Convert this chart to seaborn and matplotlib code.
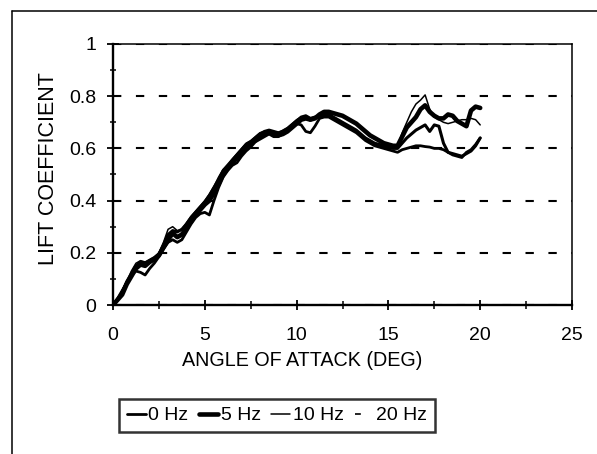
import numpy as np
import pandas as pd
import matplotlib
matplotlib.use("Agg")
import matplotlib.pyplot as plt
from matplotlib.lines import Line2D
from matplotlib.ticker import MultipleLocator
import seaborn as sns

# Angle of attack grid (deg)
angle_deg = np.arange(0, 20.25, 0.25)

# Lift coefficient for each forcing frequency
cl_0hz = [0.00, 0.02, 0.05, 0.09, 0.12, 0.15, 0.165, 0.16, 0.17, 0.18, 0.195, 0.23, 0.27,
          0.285, 0.28, 0.29, 0.31, 0.335, 0.355, 0.375, 0.395, 0.42, 0.45, 0.48, 0.515,
          0.53, 0.555, 0.575, 0.595, 0.615, 0.625, 0.64, 0.655, 0.665, 0.67, 0.665, 0.66,
          0.665, 0.675, 0.69, 0.705, 0.72, 0.725, 0.715, 0.72, 0.725, 0.73, 0.73, 0.72,
          0.71, 0.70, 0.69, 0.68, 0.67, 0.655, 0.64, 0.63, 0.62, 0.615, 0.61, 0.605, 0.60,
          0.60, 0.62, 0.64, 0.655, 0.67, 0.68, 0.69, 0.665, 0.69, 0.685, 0.62, 0.585, 0.58,
          0.575, 0.57, 0.58, 0.59, 0.61, 0.64]
cl_5hz = [0.00, 0.02, 0.04, 0.08, 0.11, 0.14, 0.155, 0.15, 0.165, 0.175, 0.19, 0.22, 0.25,
          0.275, 0.26, 0.27, 0.295, 0.32, 0.345, 0.365, 0.385, 0.40, 0.43, 0.465, 0.50,
          0.525, 0.545, 0.565, 0.585, 0.605, 0.62, 0.63, 0.645, 0.655, 0.66, 0.655, 0.65,
          0.655, 0.665, 0.68, 0.695, 0.71, 0.715, 0.71, 0.715, 0.73, 0.74, 0.74, 0.735,
          0.73, 0.725, 0.715, 0.705, 0.695, 0.68, 0.665, 0.65, 0.64, 0.63, 0.62, 0.615,
          0.61, 0.61, 0.645, 0.68, 0.70, 0.72, 0.75, 0.765, 0.74, 0.725, 0.715, 0.715,
          0.73, 0.725, 0.705, 0.695, 0.685, 0.745, 0.76, 0.755]
cl_10hz = [0.00, 0.03, 0.06, 0.09, 0.13, 0.16, 0.17, 0.165, 0.175, 0.185, 0.20, 0.24, 0.29,
           0.30, 0.285, 0.29, 0.315, 0.34, 0.36, 0.38, 0.40, 0.425, 0.455, 0.49, 0.52,
           0.54, 0.56, 0.58, 0.60, 0.62, 0.63, 0.645, 0.66, 0.665, 0.665, 0.66, 0.66,
           0.67, 0.68, 0.695, 0.71, 0.72, 0.715, 0.705, 0.715, 0.72, 0.725, 0.725, 0.715,
           0.705, 0.695, 0.685, 0.675, 0.665, 0.65, 0.635, 0.625, 0.615, 0.61, 0.605,
           0.60, 0.60, 0.61, 0.66, 0.70, 0.74, 0.77, 0.785, 0.805, 0.75, 0.72, 0.71,
           0.70, 0.695, 0.70, 0.705, 0.71, 0.71, 0.715, 0.71, 0.69]
cl_20hz = [0.00, 0.02, 0.05, 0.085, 0.115, 0.13, 0.125, 0.115, 0.14, 0.16, 0.185, 0.215,
           0.24, 0.25, 0.24, 0.25, 0.28, 0.31, 0.335, 0.35, 0.355, 0.345, 0.40, 0.45,
           0.49, 0.515, 0.535, 0.545, 0.57, 0.59, 0.605, 0.625, 0.635, 0.645, 0.655,
           0.645, 0.645, 0.655, 0.67, 0.685, 0.695, 0.69, 0.665, 0.66, 0.685, 0.715, 0.72,
           0.72, 0.71, 0.70, 0.69, 0.68, 0.67, 0.66, 0.645, 0.63, 0.62, 0.61, 0.605, 0.60,
           0.595, 0.59, 0.585, 0.595, 0.60, 0.605, 0.61, 0.61, 0.607, 0.605, 0.60, 0.60,
           0.595, 0.585, 0.575, 0.57, 0.565, 0.585, 0.595, 0.615, 0.64]

series_labels = ["0 Hz", "5 Hz", "10 Hz", "20 Hz"]
series_values = [cl_0hz, cl_5hz, cl_10hz, cl_20hz]
series_widths = [2.2, 3.3, 1.1, 2.0]

x_ticks = [0, 5, 10, 15, 20, 25]
y_ticks = [0, 0.2, 0.4, 0.6, 0.8, 1]
y_tick_labels = ["0", "0.2", "0.4", "0.6", "0.8", "1"]

frames = [pd.DataFrame({"angle": angle_deg, "cl": vals, "freq": lab})
          for lab, vals in zip(series_labels, series_values)]
df = pd.concat(frames, ignore_index=True)

sns.set_theme(style="white")
plt.rcParams["font.family"] = ["Liberation Sans", "DejaVu Sans"]

fig = plt.figure(figsize=(5.97, 4.54), dpi=100)
ax = fig.add_axes([113 / 597, 1 - 305 / 454, 459 / 597, 261 / 454])

for lab, lw in zip(series_labels, series_widths):
    sns.lineplot(data=df[df["freq"] == lab], x="angle", y="cl", ax=ax,
                 color="black", linewidth=lw, estimator=None, sort=False,
                 legend=False, zorder=3)

ax.set_xlim(0, 25)
ax.set_ylim(0, 1)
ax.set_xticks(x_ticks)
ax.set_xticklabels([str(t) for t in x_ticks])
ax.set_yticks(y_ticks)
ax.set_yticklabels(y_tick_labels)
ax.xaxis.set_minor_locator(MultipleLocator(2.5))
ax.yaxis.set_minor_locator(MultipleLocator(0.1))

ax.tick_params(axis="both", which="both", direction="inout", color="black",
               labelcolor="black", left=True, bottom=True)
ax.tick_params(axis="x", which="major", length=7, width=1.3, pad=12, labelsize=14)
ax.tick_params(axis="x", which="minor", length=6, width=1.1)
ax.tick_params(axis="y", which="major", length=8, width=1.3, pad=8, labelsize=14)
ax.tick_params(axis="y", which="minor", length=5, width=1.1)

ax.yaxis.grid(True, which="major", color="black", linestyle=(0, (4, 7)), linewidth=1.5)
ax.xaxis.grid(False)

for side in ["left", "bottom"]:
    ax.spines[side].set_linewidth(1.7)
    ax.spines[side].set_color("black")
for side in ["top", "right"]:
    ax.spines[side].set_linewidth(1.1)
    ax.spines[side].set_color("black")

ax.set_xlabel("ANGLE OF ATTACK (DEG)", fontsize=14.2, color="black")
ax.set_ylabel("LIFT COEFFICIENT", fontsize=15.5, color="black")
ax.xaxis.label.set_va("center")
ax.xaxis.set_label_coords((302.5 - 113) / 459, (305 - 361) / 261)
ax.yaxis.label.set_va("center")
ax.yaxis.set_label_coords((48.5 - 113) / 459, (305 - 169) / 261)

# Legend with line samples drawn to match each curve's weight
handles = [
    Line2D([], [], color="black", linewidth=2.0),
    Line2D([], [], color="black", linewidth=3.3),
    Line2D([], [], color="black", linewidth=1.1),
    Line2D([], [], color="black", linewidth=1.2, linestyle=(0, (3.5, 40))),
]
leg = fig.legend(handles, series_labels, loc="center",
                 bbox_to_anchor=(277 / 597, 1 - 415.5 / 454),
                 bbox_transform=fig.transFigure, ncol=4, fontsize=14,
                 frameon=True, fancybox=False, edgecolor="black",
                 handlelength=0.95, handletextpad=0.15, columnspacing=0.55,
                 borderpad=0.4, borderaxespad=0)
leg.get_frame().set_linewidth(1.8)
for t in leg.get_texts():
    t.set_color("black")

# Outer chart border
fig.add_artist(Line2D([11.5 / 597, 11.5 / 597], [0, 1 - 11 / 454],
                      transform=fig.transFigure, color="black", linewidth=1.1))
fig.add_artist(Line2D([11.5 / 597, 1], [1 - 11 / 454, 1 - 11 / 454],
                      transform=fig.transFigure, color="black", linewidth=1.1))

fig.savefig("out.png", dpi=100, facecolor="white")
